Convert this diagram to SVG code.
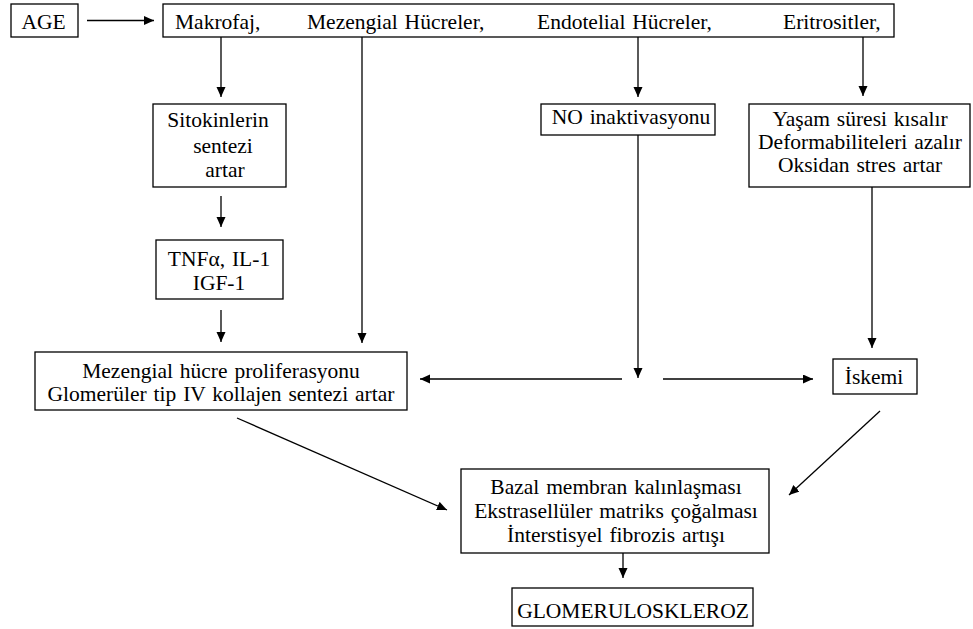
<svg xmlns="http://www.w3.org/2000/svg" width="973" height="629" viewBox="0 0 973 629">
<defs>
<style>
.box{fill:#fff;stroke:#000;stroke-width:1.3}
.t{font-family:"Liberation Serif","Times New Roman",serif;font-size:21.5px;word-spacing:1.5px;fill:#000}
.c{text-anchor:middle}
.ln{stroke:#000;stroke-width:1.3;fill:none;marker-end:url(#ah)}
</style>
<marker id="ah" markerUnits="userSpaceOnUse" markerWidth="10" markerHeight="10" refX="10" refY="4.5" orient="auto">
<path d="M0,0 L10,4.5 L0,9 z" fill="#000"/>
</marker>
</defs>
<rect width="973" height="629" fill="#fff"/>
<g id="connectors">
<line class="ln" x1="87" y1="20.5" x2="154" y2="20.5"/>
<line class="ln" x1="221" y1="37" x2="221" y2="97"/>
<line class="ln" x1="362" y1="37" x2="362" y2="343"/>
<line class="ln" x1="638" y1="37" x2="638" y2="97"/>
<line class="ln" x1="863" y1="37" x2="863" y2="96"/>
<line class="ln" x1="221" y1="196" x2="221" y2="227"/>
<line class="ln" x1="221" y1="310" x2="221" y2="342"/>
<line class="ln" x1="638" y1="135" x2="638" y2="378"/>
<line class="ln" x1="622" y1="379" x2="420" y2="379"/>
<line class="ln" x1="663" y1="379" x2="813" y2="379"/>
<line class="ln" x1="872" y1="187" x2="872" y2="348"/>
<line class="ln" x1="237" y1="418" x2="447" y2="510"/>
<line class="ln" x1="880" y1="411" x2="789" y2="495"/>
<line class="ln" x1="623" y1="553" x2="623" y2="578"/>
</g>
<g id="age"><rect class="box" x="11" y="4" width="67" height="33"/><text class="t" x="21.5" y="29">AGE</text></g>
<g id="cells"><rect class="box" x="163" y="4" width="731" height="33"/>
<text class="t" x="175" y="29">Makrofaj,</text>
<text class="t" x="307" y="29">Mezengial Hücreler,</text>
<text class="t" x="537" y="29">Endotelial Hücreler,</text>
<text class="t" x="783" y="29">Eritrositler,</text></g>
<g id="sitokin"><rect class="box" x="153" y="104" width="133" height="83"/>
<text class="t c" x="218" y="127">Sitokinlerin</text>
<text class="t c" x="223" y="153">sentezi</text>
<text class="t c" x="225" y="177">artar</text></g>
<g id="tnf"><rect class="box" x="156" y="240" width="127" height="59"/>
<text class="t c" x="219" y="265.5">TNFα, IL-1</text>
<text class="t c" x="219" y="289.5">IGF-1</text></g>
<g id="no"><rect class="box" x="541" y="104" width="174" height="31"/>
<text class="t c" x="631" y="124">NO inaktivasyonu</text></g>
<g id="eritro"><rect class="box" x="749" y="104" width="221" height="83"/>
<text class="t c" x="860" y="126">Yaşam süresi kısalır</text>
<text class="t c" x="860" y="149">Deformabiliteleri azalır</text>
<text class="t c" x="860" y="172">Oksidan stres artar</text></g>
<g id="mezengial"><rect class="box" x="35" y="352" width="372" height="58"/>
<text class="t c" x="221" y="377.5">Mezengial hücre proliferasyonu</text>
<text class="t c" x="221" y="401">Glomerüler tip IV kollajen sentezi artar</text></g>
<g id="iskemi"><rect class="box" x="833" y="359" width="84" height="35"/>
<text class="t c" x="874" y="383.5">İskemi</text></g>
<g id="bazal"><rect class="box" x="461" y="469" width="308" height="84"/>
<text class="t c" x="616" y="493.5">Bazal membran kalınlaşması</text>
<text class="t c" x="616" y="518">Ekstrasellüler matriks çoğalması</text>
<text class="t c" x="616" y="542">İnterstisyel fibrozis artışı</text></g>
<g id="glom"><rect class="box" x="512" y="588" width="241" height="38"/>
<text class="t c" x="633" y="618">GLOMERULOSKLEROZ</text></g>
</svg>
